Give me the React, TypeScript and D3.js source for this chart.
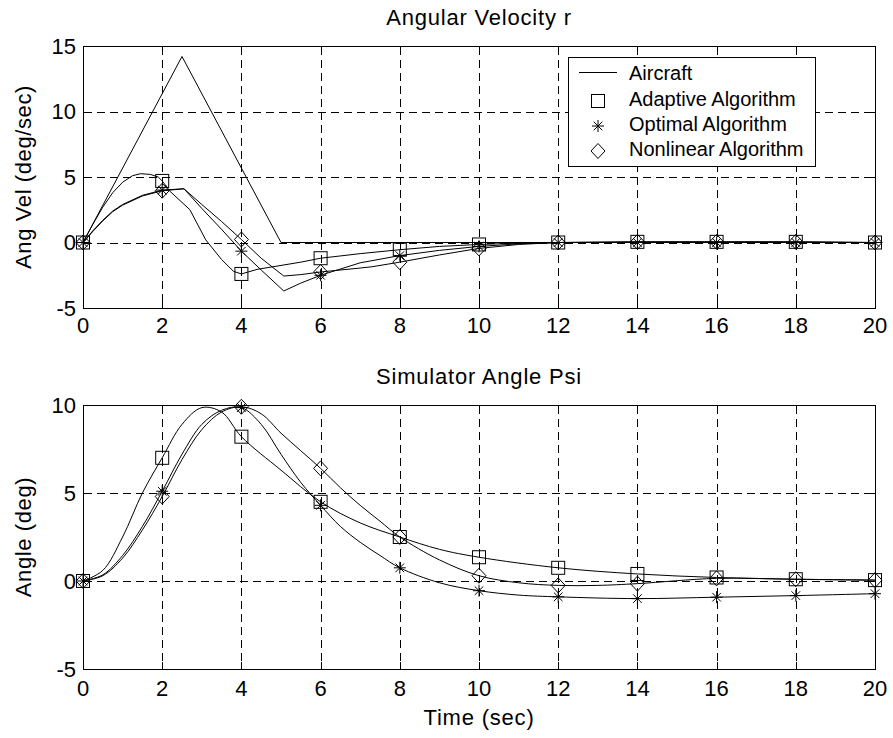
import React from 'react';
import * as d3 from 'd3';

// ---------- data ----------
const xTicks = [0, 2, 4, 6, 8, 10, 12, 14, 16, 18, 20];
const topYTicks = [-5, 0, 5, 10, 15];
const bottomYTicks = [-5, 0, 5, 10];
const markerTimes = [0, 2, 4, 6, 8, 10, 12, 14, 16, 18, 20];

// Angular velocity r (top)
const aircraftT = [0, 2.5, 5, 20];
const aircraftV = [0, 14.2, 0, 0];

const adaptiveTopT = [0, 0.25, 0.5, 0.75, 1, 1.25, 1.45, 1.7, 1.9, 2, 2.2, 2.7, 3.1, 3.5, 3.8, 4, 4.4, 5, 5.5, 6, 7, 8, 9, 10, 11, 12, 14, 16, 18, 20];
const adaptiveTopV = [0, 1.4, 2.7, 3.8, 4.6, 5.1, 5.25, 5.2, 5.0, 4.7, 3.9, 2.5, 0.2, -1.3, -2.2, -2.4, -2.05, -1.75, -1.5, -1.2, -0.85, -0.55, -0.3, -0.15, -0.05, 0, 0.05, 0.05, 0.05, 0];

const optimalTopT = [0, 0.25, 0.5, 0.75, 1, 1.5, 2, 2.55, 3, 3.5, 4, 4.5, 5.07, 5.5, 6, 7, 8, 9, 10, 11, 12, 14, 16, 18, 20];
const optimalTopV = [0, 0.9, 1.7, 2.4, 2.9, 3.6, 4.0, 4.1, 2.6, 1.0, -0.66, -2.1, -3.7, -3.1, -2.5, -1.55, -1.0, -0.6, -0.3, -0.1, 0, 0, 0, 0, 0];

const nonlinearTopT = [0, 0.25, 0.5, 0.75, 1, 1.5, 2, 2.55, 3, 3.5, 4, 4.5, 5.07, 5.5, 6, 7, 7.3, 8, 9, 10, 11, 12, 14, 16, 18, 20];
const nonlinearTopV = [0, 0.85, 1.65, 2.35, 2.85, 3.55, 3.95, 4.1, 2.9, 1.6, 0.23, -1.2, -2.56, -2.45, -2.25, -1.95, -1.85, -1.5, -0.95, -0.45, -0.15, 0, 0.05, 0.05, 0.05, 0];

// Simulator angle Psi (bottom)
const adaptiveBotT = [0, 0.5, 1, 1.5, 2, 2.5, 3, 3.5, 4, 5, 6, 7, 8, 9, 10, 12, 14, 16, 18, 20];
const adaptiveBotV = [0, 0.6, 2.5, 5.0, 7.0, 8.9, 9.85, 9.6, 8.2, 6.3, 4.5, 3.3, 2.5, 1.8, 1.35, 0.75, 0.4, 0.2, 0.1, 0.05];

const optimalBotT = [0, 0.5, 1, 1.5, 2, 2.5, 3, 3.5, 4, 4.5, 5, 5.5, 6, 6.5, 7, 7.5, 8, 9, 10, 11, 12, 14, 16, 18, 20];
const optimalBotV = [0, 0.35, 1.45, 3.1, 5.1, 7.2, 8.9, 9.7, 9.85, 8.9, 7.2, 5.6, 4.3, 3.1, 2.2, 1.45, 0.75, -0.1, -0.55, -0.8, -0.9, -1.0, -0.92, -0.83, -0.72];

const nonlinearBotT = [0, 0.5, 1, 1.5, 2, 2.5, 3, 3.5, 4, 4.5, 5, 5.5, 6, 6.5, 7, 7.5, 8, 9, 10, 11, 12, 13, 14, 16, 18, 20];
const nonlinearBotV = [0, 0.3, 1.3, 2.9, 4.8, 6.9, 8.6, 9.6, 9.9, 9.5, 8.4, 7.4, 6.4, 5.3, 4.3, 3.4, 2.5, 1.2, 0.3, -0.1, -0.25, -0.25, -0.15, 0.15, 0.1, 0.05];

const legendLabels = ['Aircraft', 'Adaptive Algorithm', 'Optimal Algorithm', 'Nonlinear Algorithm'];

// ---------- drawing ----------
const W = 893;
const H = 738;
const FONT = "'Liberation Sans', Arial, Helvetica, sans-serif";
const X0 = 83;
const X1 = 875;

type Kind = 'none' | 'square' | 'star' | 'diamond';
type Series = { t: number[]; v: number[]; kind: Kind };

const zip = (t: number[], v: number[]) => t.map((tt, i) => [tt, v[i]] as [number, number]);

function Marker({ kind, x, y }: { kind: Kind; x: number; y: number }) {
  const st = { fill: 'none', stroke: '#000', strokeWidth: 1 } as any;
  if (kind === 'square') return <rect x={x - 6.5} y={y - 6.5} width={13} height={13} {...st} />;
  if (kind === 'diamond')
    return <path d={`M${x},${y - 7.5}L${x + 7},${y}L${x},${y + 7.5}L${x - 7},${y}Z`} {...st} />;
  if (kind === 'star') {
    const a = 6, b = 4.3;
    return (
      <path
        d={`M${x - a},${y}L${x + a},${y}M${x},${y - a}L${x},${y + a}M${x - b},${y - b}L${x + b},${y + b}M${x - b},${y + b}L${x + b},${y - b}`}
        {...st}
      />
    );
  }
  return null;
}

function Panel(props: {
  top: number; bottom: number; yDomain: [number, number]; yTicks: number[]; title: string; ylabel: string;
  series: Series[]; smooth: boolean; tickLabelOffset: number; legend?: boolean;
}) {
  const { top, bottom, yDomain, yTicks, title, ylabel, series, smooth, tickLabelOffset, legend } = props;
  const x = d3.scaleLinear().domain([0, 20]).range([X0, X1]);
  const y = d3.scaleLinear().domain(yDomain).range([bottom, top]);
  const line = d3
    .line<[number, number]>()
    .x((d) => x(d[0]))
    .y((d) => y(d[1]))
    .curve(smooth ? d3.curveCatmullRom.alpha(0.5) : d3.curveLinear);
  const px = (v: number) => Math.round(v) + 0.5;
  const L = px(X0), R = px(X1), T = px(top), B = px(bottom);
  const tickLen = 8;
  return (
    <g>
      {/* grid */}
      {xTicks.slice(1, -1).map((t) => (
        <line key={'gx' + t} x1={px(x(t))} x2={px(x(t))} y1={T} y2={B} stroke="#000" strokeWidth={1} strokeDasharray="8,5" shapeRendering="crispEdges" />
      ))}
      {yTicks.slice(1, -1).map((v) => (
        <line key={'gy' + v} x1={L} x2={R} y1={px(y(v))} y2={px(y(v))} stroke="#000" strokeWidth={1} strokeDasharray="8,5" shapeRendering="crispEdges" />
      ))}
      {/* ticks */}
      {xTicks.map((t) => (
        <g key={'tx' + t}>
          <line x1={px(x(t))} x2={px(x(t))} y1={B} y2={B - tickLen} stroke="#000" shapeRendering="crispEdges" />
          <line x1={px(x(t))} x2={px(x(t))} y1={T} y2={T + tickLen} stroke="#000" shapeRendering="crispEdges" />
          <text x={x(t)} y={bottom + tickLabelOffset} textAnchor="middle" fontSize={22} fontFamily={FONT}>{t}</text>
        </g>
      ))}
      {yTicks.map((v) => (
        <g key={'ty' + v}>
          <line x1={L} x2={L + tickLen} y1={px(y(v))} y2={px(y(v))} stroke="#000" shapeRendering="crispEdges" />
          <line x1={R} x2={R - tickLen} y1={px(y(v))} y2={px(y(v))} stroke="#000" shapeRendering="crispEdges" />
          <text x={76} y={y(v)} dy="0.36em" textAnchor="end" fontSize={22} fontFamily={FONT}>{v}</text>
        </g>
      ))}
      {/* curves */}
      {series.map((s, i) => (
        <path key={'s' + i} d={line(zip(s.t, s.v)) || ''} fill="none" stroke="#000" strokeWidth={1} />
      ))}
      {series.map((s, i) =>
        s.kind === 'none'
          ? null
          : s.t.map((t, j) =>
              markerTimes.includes(t) ? <Marker key={`m${i}-${j}`} kind={s.kind} x={x(t)} y={y(s.v[j])} /> : null
            )
      )}
      {/* box */}
      <rect x={L} y={T} width={R - L} height={B - T} fill="none" stroke="#000" strokeWidth={1} shapeRendering="crispEdges" />
      {/* title & ylabel */}
      <text x={(X0 + X1) / 2} y={top - 21} textAnchor="middle" fontSize={22} letterSpacing={0.8} fontFamily={FONT}>{title}</text>
      <text transform={`translate(23,${(top + bottom) / 2}) rotate(-90)`} dy="0.36em" textAnchor="middle" fontSize={22} letterSpacing={0.6} fontFamily={FONT}>{ylabel}</text>
      {legend && <Legend />}
    </g>
  );
}

function Legend() {
  const bx = 568.5, by = 57.5, bw = 247, bh = 109;
  const rowY = [73, 99, 124, 149];
  const kinds: Kind[] = ['none', 'square', 'star', 'diamond'];
  return (
    <g>
      <rect x={bx} y={by} width={bw} height={bh} fill="#fff" stroke="#000" strokeWidth={1} shapeRendering="crispEdges" />
      {legendLabels.map((lab, i) => (
        <g key={lab}>
          {kinds[i] === 'none' ? (
            <line x1={579} x2={617} y1={rowY[i] - 0.5} y2={rowY[i] - 0.5} stroke="#000" strokeWidth={1} />
          ) : (
            <Marker kind={kinds[i]} x={598} y={rowY[i] + 2} />
          )}
          <text x={629} y={rowY[i]} dy="0.36em" fontSize={20} fontFamily={FONT}>{lab}</text>
        </g>
      ))}
    </g>
  );
}

export default function App() {
  const topSeries: Series[] = [
    { t: aircraftT, v: aircraftV, kind: 'none' },
    { t: adaptiveTopT, v: adaptiveTopV, kind: 'square' },
    { t: optimalTopT, v: optimalTopV, kind: 'star' },
    { t: nonlinearTopT, v: nonlinearTopV, kind: 'diamond' },
  ];
  const botSeries: Series[] = [
    { t: adaptiveBotT, v: adaptiveBotV, kind: 'square' },
    { t: optimalBotT, v: optimalBotV, kind: 'star' },
    { t: nonlinearBotT, v: nonlinearBotV, kind: 'diamond' },
  ];
  return (
    <svg width={W} height={H} style={{ position: 'absolute', left: 0, top: 0, background: '#fff' }}>
      <rect x={0} y={0} width={W} height={H} fill="#fff" />
      <Panel top={46} bottom={308} yDomain={[-5, 15]} yTicks={topYTicks} title="Angular Velocity r" ylabel="Ang Vel (deg/sec)" series={topSeries} smooth={false} tickLabelOffset={25} legend />
      <Panel top={405} bottom={669} yDomain={[-5, 10]} yTicks={bottomYTicks} title="Simulator Angle Psi" ylabel="Angle (deg)" series={botSeries} smooth={true} tickLabelOffset={27} />
      <text x={(X0 + X1) / 2} y={725} textAnchor="middle" fontSize={22} letterSpacing={0.8} fontFamily={FONT}>Time (sec)</text>
    </svg>
  );
}
